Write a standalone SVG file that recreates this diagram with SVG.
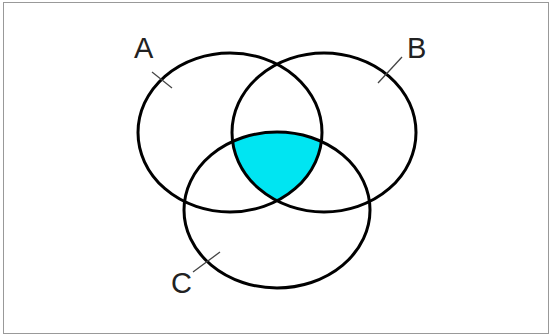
<svg xmlns="http://www.w3.org/2000/svg" width="552" height="336" viewBox="0 0 552 336">
<style>
.ring{fill:none;stroke:#000;stroke-width:3}
.tick{stroke:#444;stroke-width:1.3}
.lbl{font-family:"Liberation Sans",Arial,sans-serif;font-size:29px;fill:#222}
</style>
<defs>
<clipPath id="clipA"><ellipse cx="230" cy="132.5" rx="92" ry="79.5"/></clipPath>
<clipPath id="clipB"><ellipse cx="324" cy="132.5" rx="92" ry="79.5"/></clipPath>
</defs>
<rect x="0" y="0" width="552" height="336" fill="#fff"/>
<rect x="3.5" y="2.5" width="545" height="331" fill="none" stroke="#999" stroke-width="1"/>
<g id="intersection" clip-path="url(#clipA)">
<g clip-path="url(#clipB)">
<ellipse cx="277" cy="210" rx="93" ry="78" fill="#00E5F2"/>
</g>
</g>
<g id="A">
<ellipse class="ring" cx="230" cy="132.5" rx="92" ry="79.5"/>
<line class="tick" x1="152" y1="72" x2="172" y2="88"/>
<text class="lbl" x="134" y="58">A</text>
</g>
<g id="B">
<ellipse class="ring" cx="324" cy="132.5" rx="92" ry="79.5"/>
<line class="tick" x1="402" y1="57" x2="378" y2="83"/>
<text class="lbl" x="407" y="58">B</text>
</g>
<g id="C">
<ellipse class="ring" cx="277" cy="210" rx="93" ry="78"/>
<line class="tick" x1="193" y1="272" x2="220" y2="252"/>
<text class="lbl" x="171" y="293">C</text>
</g>
</svg>
